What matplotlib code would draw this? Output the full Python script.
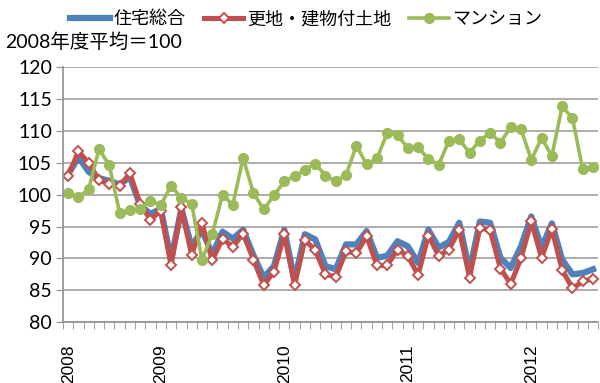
import numpy as np
import matplotlib.pyplot as plt

plt.rcParams['font.family'] = ['Lato', 'Noto Sans CJK JP', 'DejaVu Sans']

# 月次指数 (2008年4月〜2012年7月, 2008年度平均=100)
total = [103.2, 105.9, 103.6, 102.6, 102.2, 101.6, 102.8, 98.3, 97.0, 97.8,
         89.8, 97.8, 91.8, 94.5, 90.6, 94.2, 93.1, 94.5, 90.5, 87.0,
         88.8, 94.5, 86.5, 93.8, 93.0, 88.8, 88.3, 92.2, 92.2, 94.3,
         90.1, 90.4, 92.7, 91.9, 89.3, 94.5, 91.7, 92.6, 95.6, 88.0,
         95.8, 95.6, 90.1, 88.5, 91.9, 96.6, 91.7, 95.5, 89.8, 87.5,
         87.7, 88.3]
land = [103.0, 106.8, 105.0, 102.3, 101.7, 101.3, 103.4, 98.5, 96.1, 97.5,
        88.9, 98.0, 90.5, 95.5, 89.7, 93.1, 91.8, 93.9, 89.8, 85.8,
        87.9, 93.8, 85.8, 92.9, 91.3, 87.5, 87.1, 91.1, 90.8, 93.5,
        88.9, 88.9, 91.4, 90.4, 87.4, 93.6, 90.4, 91.4, 94.5, 87.0,
        94.8, 94.4, 88.4, 86.0, 90.0, 95.8, 90.1, 94.6, 88.2, 85.3,
        86.4, 86.8]
condo = [100.3, 99.6, 100.9, 107.2, 104.6, 97.2, 97.6, 97.8, 99.0, 98.4,
         101.4, 99.5, 98.6, 89.8, 93.8, 100.0, 98.4, 105.8, 100.3, 97.7,
         99.9, 102.1, 102.9, 103.9, 104.9, 103.0, 102.1, 103.1, 107.7, 104.8,
         105.7, 109.7, 109.4, 107.3, 107.5, 105.6, 104.7, 108.5, 108.7, 106.6,
         108.5, 109.7, 108.2, 110.6, 110.3, 105.5, 108.9, 106.1, 113.9, 112.0,
         104.0, 104.3]
series_names = ['住宅総合', '更地・建物付土地', 'マンション']
year_labels = ['2008', '2009', '2010', '2011', '2012']
year_pos = [0, 9, 21, 33, 45]

x = np.arange(len(total))

fig = plt.figure(figsize=(6, 3.83), dpi=100)
ax = fig.add_axes([0.105, 0.159, 0.892, 0.665])

ax.plot(x, total, color='#4F81BD', lw=4.5, solid_joinstyle='round',
        label=series_names[0])
ax.plot(x, land, color='#C0504D', lw=3.6, marker='D', ms=5.5,
        mfc='white', mec='#C0504D', mew=1.4, label=series_names[1])
ax.plot(x, condo, color='#9BBB59', lw=2.6, marker='o', ms=7,
        mfc='#9BBB59', mec='#9BBB59', label=series_names[2])

ax.set_xlim(-0.5, len(x) - 0.5)
ax.set_ylim(80, 120)
ax.set_yticks(np.arange(80, 121, 5))
ax.yaxis.grid(True, color='#A6A6A6', lw=1.3)
ax.set_axisbelow(True)

ax.set_xticks(year_pos)
ax.set_xticklabels(year_labels, rotation=90, fontsize=12.5,
                   family='Liberation Sans')
ax.set_xticks(np.arange(-0.5, len(x), 1), minor=True)
ax.tick_params(axis='x', which='major', length=0, pad=16)
ax.tick_params(axis='x', which='minor', length=5, color='#909090')
ax.tick_params(axis='y', length=5, color='#909090', labelsize=14, pad=3)

for side in ['top', 'right']:
    ax.spines[side].set_visible(False)
for side in ['left', 'bottom']:
    ax.spines[side].set_color('#909090')
    ax.spines[side].set_linewidth(1.2)

fig.legend(loc='upper left', bbox_to_anchor=(0.09, 1.015), ncol=3,
           frameon=False, fontsize=13, handlelength=2.2, handletextpad=0.2,
           columnspacing=1.0)
fig.text(0.008, 0.89, '2008年度平均＝100', fontsize=14, va='center')

fig.savefig('out.png', dpi=100)
